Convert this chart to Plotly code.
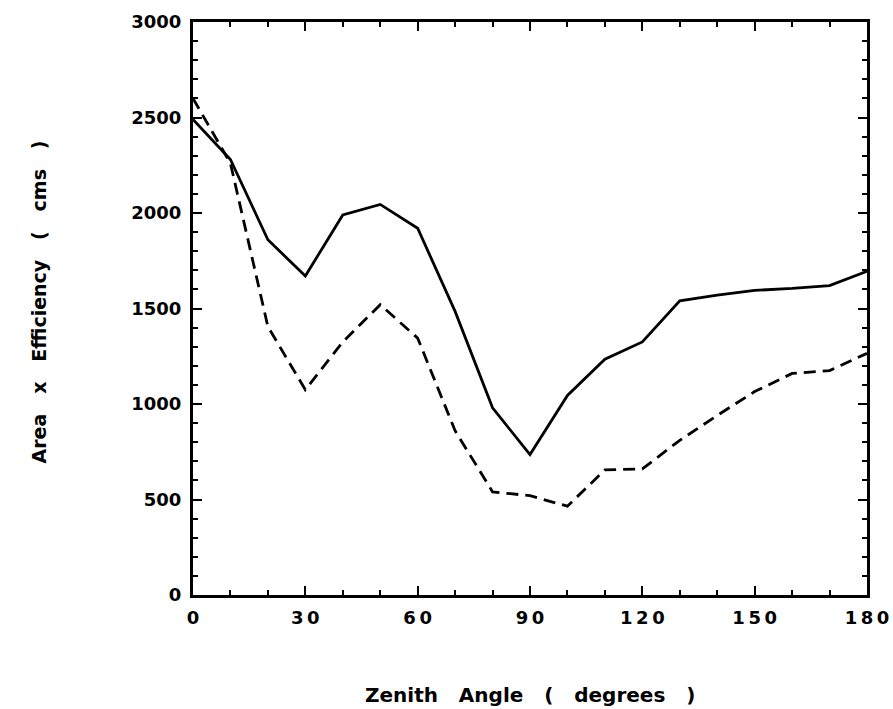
import plotly.graph_objects as go

angles = [0, 10, 20, 30, 40, 50, 60, 70, 80, 90, 100, 110, 120, 130, 140, 150, 160, 170, 180]
solid_vals = [2490, 2280, 1860, 1670, 1990, 2045, 1920, 1485, 980, 735, 1045, 1235, 1325, 1540, 1570, 1595, 1605, 1620, 1695]
dashed_vals = [2600, 2260, 1405, 1075, 1325, 1520, 1345, 860, 540, 520, 465, 655, 660, 810, 940, 1065, 1160, 1175, 1265]

x_ticks = [0, 30, 60, 90, 120, 150, 180]
y_ticks = [0, 500, 1000, 1500, 2000, 2500, 3000]

fig = go.Figure()
fig.add_trace(go.Scatter(x=angles, y=solid_vals, mode="lines",
                         line=dict(color="black", width=2.8), showlegend=False))
fig.add_trace(go.Scatter(x=angles, y=dashed_vals, mode="lines",
                         line=dict(color="black", width=2.8, dash="12px,7px"), showlegend=False))

FAM = "DejaVu Sans, Liberation Sans, sans-serif"
tick_font = dict(family=FAM, size=18, color="black", weight="bold")
title_font = dict(family=FAM, size=20, color="black", weight="bold")

NB = "\u00a0\u00a0\u00a0"
THIN = "\u2009"

fig.update_layout(
    width=893, height=709,
    margin=dict(l=193, r=26, t=22, b=114, autoexpand=False),
    paper_bgcolor="white", plot_bgcolor="white",
    font=tick_font,
    xaxis=dict(range=[0, 180], tickvals=x_ticks, ticktext=[THIN.join(str(v)) for v in x_ticks],
               ticks="inside", ticklen=9, tickwidth=2, tickcolor="black",
               showline=True, linewidth=3, linecolor="black", mirror="ticks",
               showgrid=False, zeroline=False, automargin=False, ticklabelstandoff=4,
               minor=dict(dtick=10, tick0=0, ticks="inside", ticklen=5, tickwidth=2, tickcolor="black", showgrid=False),
               tickfont=tick_font),
    yaxis=dict(range=[0, 3000], tickvals=y_ticks, ticktext=[str(v) for v in y_ticks],
               ticks="inside", ticklen=9, tickwidth=2, tickcolor="black",
               showline=True, linewidth=3, linecolor="black", mirror="ticks",
               showgrid=False, zeroline=False, automargin=False, ticklabelstandoff=5,
               minor=dict(dtick=100, tick0=0, ticks="inside", ticklen=5, tickwidth=2, tickcolor="black", showgrid=False),
               tickfont=tick_font),
    annotations=[
        dict(text=NB.join(["Zenith", "Angle", "(", "degrees", ")"]), xref="paper", yref="paper",
             x=0.5, y=0, yshift=-100, showarrow=False, font=title_font,
             xanchor="center", yanchor="middle"),
        dict(text=NB.join(["Area", "x", "Efficiency", "(", "cms", ")"]), xref="paper", yref="paper",
             x=0, y=0.5, xshift=-155, yshift=6, showarrow=False, textangle=-90,
             font=dict(title_font, size=19),
             xanchor="center", yanchor="middle"),
    ],
)

fig.write_html("out.html")
